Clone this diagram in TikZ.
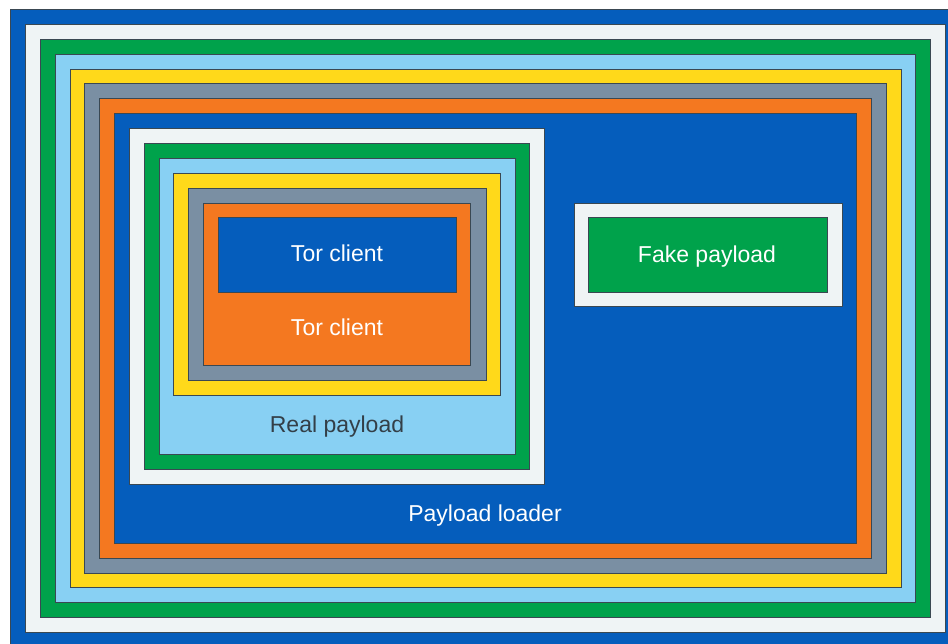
\documentclass[tikz,border=0pt]{standalone}
\usepackage{fontspec}
\setmainfont{Liberation Sans}
\definecolor{lblue}{RGB}{5,93,188}
\definecolor{lwhite}{RGB}{239,244,245}
\definecolor{lgreen}{RGB}{0,162,75}
\definecolor{lsky}{RGB}{136,208,243}
\definecolor{lyellow}{RGB}{255,217,26}
\definecolor{lgray}{RGB}{122,143,163}
\definecolor{lorange}{RGB}{244,120,32}
\definecolor{ledge}{RGB}{58,72,82}
\definecolor{ltext}{RGB}{51,63,72}
\begin{document}
\begin{tikzpicture}[x=1pt,y=-1pt,
  layer/.style={draw=ledge,line width=1pt},
  label/.style={font=\fontsize{23}{26}\selectfont,text=white,inner sep=0pt,anchor=base}]
            \useasboundingbox (0,0) rectangle (948,643);
            \clip (0,0) rectangle (948,643);
            % outer rings
            \draw[layer,fill=lblue] (10,9) rectangle (962,650);
            \draw[layer,fill=lwhite] (25,24) rectangle (945,632);
            \draw[layer,fill=lgreen] (40,39) rectangle (930,617);
            \draw[layer,fill=lsky] (55,54) rectangle (915,602);
            \draw[layer,fill=lyellow] (70,69) rectangle (901,587);
            \draw[layer,fill=lgray] (84,83) rectangle (886,573);
            \draw[layer,fill=lorange] (99,98) rectangle (871,558);
            \draw[layer,fill=lblue] (114,113) rectangle (856,543);
            
            % real payload
            \draw[layer,fill=lwhite] (129,128) rectangle (544,484);
            \draw[layer,fill=lgreen] (144,143) rectangle (529,469);
            \draw[layer,fill=lsky] (159,158) rectangle (515,454);
            \draw[layer,fill=lyellow] (173,173) rectangle (500,395);
            \draw[layer,fill=lgray] (188,188) rectangle (486,380);
            \draw[layer,fill=lorange] (203,203) rectangle (470,365);
            \draw[layer,fill=lblue] (218,217) rectangle (456,292);
            
            % fake payload
            \draw[layer,fill=lwhite] (574,203) rectangle (842,306);
            \draw[layer,fill=lgreen] (588,217) rectangle (827,292);
            
            \node[label] (torin) at (337,261) {Tor client};
            \node[label] (torout) at (337,335) {Tor client};
            \node[label,text=ltext] (real) at (337,432) {Real payload};
            \node[label] (loader) at (485,521) {Payload loader};
            \node[label] (fake) at (707,262) {Fake payload};
        \end{tikzpicture}
\end{document}
